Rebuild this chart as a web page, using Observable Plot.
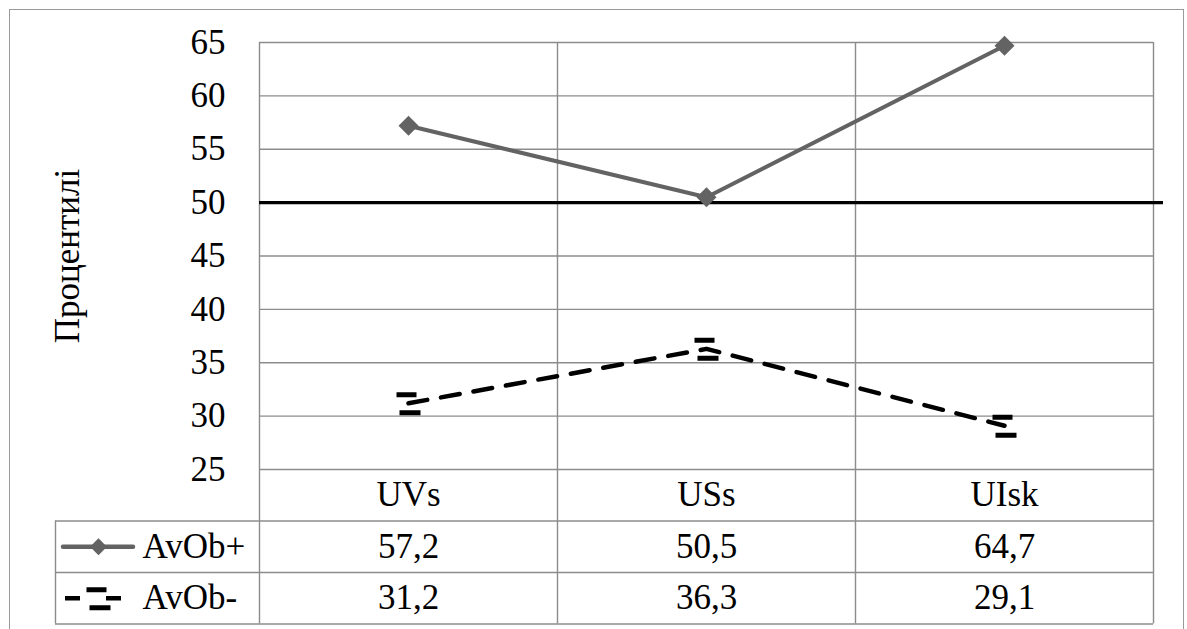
<!DOCTYPE html>
<html>
<head>
<meta charset="utf-8">
<script src="https://cdn.jsdelivr.net/npm/d3@7"></script>
<script src="https://cdn.jsdelivr.net/npm/@observablehq/plot@0.6"></script>
<style>
  html, body { margin: 0; padding: 0; background: #fff; font-family: "Liberation Serif", serif; }
  #wrap { position: relative; width: 1187px; height: 629px; }
  #border { position: absolute; left: 9px; top: 9px; width: 1173px; height: 640px; border: 1.5px solid #9a9a9a; border-bottom: none; pointer-events: none; }
  #chart { position: absolute; left: 0; top: 0; }
</style>
</head>
<body>
<div id="wrap"><div id="chart"></div><div id="border"></div></div>
<script>
// ---- data ----
const categories = ["UVs", "USs", "UIsk"];
const avobPlus = [57.2, 50.5, 64.7];
const avobMinus = [31.2, 36.3, 29.1];
const seriesNames = ["AvOb+", "AvOb-"];
const yTicks = [25, 30, 35, 40, 45, 50, 55, 60, 65];
const referenceValue = 50;
const yLabel = "Процентилі";

// ---- layout constants ----
const W = 1187, H = 629;
const mLeft = 259, mRight = 34, mTop = 42, mBottom = 160;
const pxPerX = (W - mLeft - mRight) / 3;
const pxPerY = (H - mTop - mBottom) / 40;
const rowH = 51.5 / pxPerY;
const yMin = 25;
const rowMid = k => yMin - rowH * (k + 0.5);
const rowEdge = k => yMin - rowH * k;
const legendX = -204 / pxPerX;
const lx = p => legendX + p / pxPerX;

const fmt = v => v.toFixed(1).replace(".", ",");
const rows = categories.map((c, i) => ({cat: c, pos: i + 0.5, plus: avobPlus[i], minus: avobMinus[i]}));

const gridColor = "#8c8c8c";
const plusColor = "#636363";
const txt = {fontFamily: "Liberation Serif", fontSize: 35, fill: "#000"};

const barSymbol = {
  draw(ctx) {
    ctx.moveTo(-12, -8.5); ctx.lineTo(8, -8.5);
    ctx.moveTo(-9, 9.5); ctx.lineTo(12, 9.5);
  }
};

const chart = Plot.plot({
  width: W,
  height: H,
  marginLeft: mLeft,
  marginRight: mRight,
  marginTop: mTop,
  marginBottom: mBottom,
  x: {type: "linear", domain: [0, 3], axis: null},
  y: {type: "linear", domain: [25, 65], axis: null},
  marks: [
    Plot.ruleY(yTicks, {x1: 0, x2: 3, stroke: gridColor, strokeWidth: 1.4}),
    Plot.ruleX([0, 1, 2, 3], {y1: rowEdge(3), y2: 65, stroke: gridColor, strokeWidth: 1.4}),
    Plot.ruleY([rowEdge(1), rowEdge(2), rowEdge(3)], {x1: legendX, x2: 3, stroke: gridColor, strokeWidth: 1.4}),
    Plot.ruleX([legendX], {y1: rowEdge(3), y2: rowEdge(1), stroke: gridColor, strokeWidth: 1.4}),
    Plot.ruleY([referenceValue], {x1: 0, x2: 3 + 10 / pxPerX, stroke: "#000", strokeWidth: 3.2}),
    Plot.line(rows, {x: "pos", y: "plus", stroke: plusColor, strokeWidth: 4}),
    Plot.dot(rows, {x: "pos", y: "plus", symbol: "diamond2", r: 9, fill: plusColor, stroke: "none"}),
    Plot.line(rows, {x: "pos", y: "minus", stroke: "#000", strokeWidth: 4.5, strokeDasharray: "19,14"}),
    Plot.dot(rows, {x: "pos", y: "minus", symbol: barSymbol, r: 9, fill: "none", stroke: "#000", strokeWidth: 5}),
    Plot.text(yTicks, {y: d => d, frameAnchor: "left", dx: -34, textAnchor: "end", text: d => String(d), ...txt}),
    Plot.text([yLabel], {frameAnchor: "left", dx: -192, rotate: -90, textAnchor: "middle", lineAnchor: "middle", ...txt}),
    Plot.text(rows, {x: "pos", y: rowMid(0), text: "cat", ...txt}),
    Plot.text(rows, {x: "pos", y: rowMid(1), text: d => fmt(d.plus), ...txt}),
    Plot.text(rows, {x: "pos", y: rowMid(2), text: d => fmt(d.minus), ...txt}),
    Plot.ruleY([rowMid(1)], {x1: lx(8), x2: lx(78), stroke: plusColor, strokeWidth: 4.5, strokeLinecap: "round"}),
    Plot.dot([rowMid(1)], {x: lx(43), y: d => d, symbol: "diamond2", r: 7.6, fill: plusColor, stroke: "none"}),
    Plot.text([seriesNames[0]], {x: lx(87), y: rowMid(1), textAnchor: "start", ...txt}),
    Plot.ruleY([rowMid(2)], {x1: lx(10), x2: lx(66), stroke: "#000", strokeWidth: 4.5, strokeDasharray: "15,26"}),
    Plot.dot([rowMid(2)], {x: lx(43), y: d => d, symbol: barSymbol, r: 9, fill: "none", stroke: "#000", strokeWidth: 5}),
    Plot.text([seriesNames[1]], {x: lx(87), y: rowMid(2), textAnchor: "start", ...txt})
  ]
});
document.getElementById("chart").appendChild(chart);
</script>
</body>
</html>
